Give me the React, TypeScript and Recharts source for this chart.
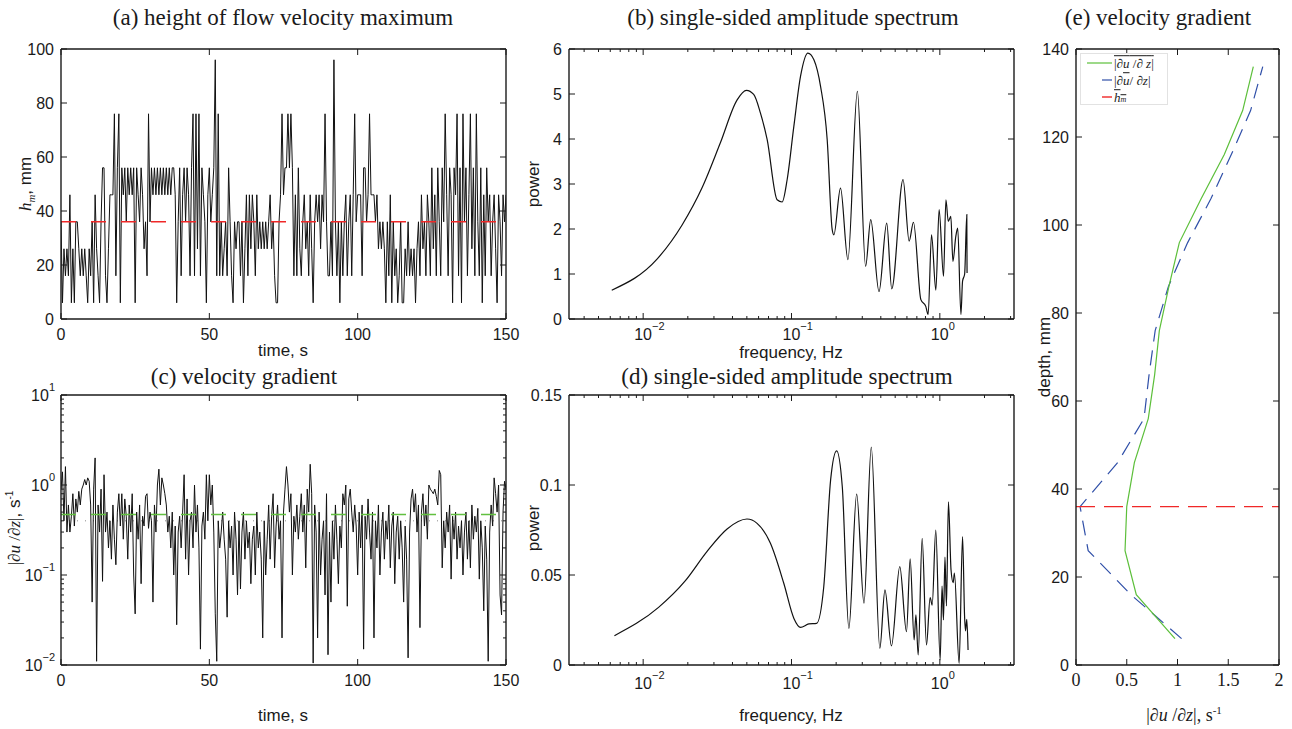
import React from 'react';
import { LineChart, Line, XAxis, YAxis, ReferenceLine } from 'recharts';

const W = 1292;
const H = 729;
const SANS = '"Liberation Sans", Arial, Helvetica, sans-serif';
const SERIF = '"Liberation Serif", "Times New Roman", Times, serif';
const INK = '#1a1a1a';

// ---------- (a) height of flow velocity maximum ----------
const timeStep = 0.5;
const hmValues = [
  36, 6, 26, 16, 26, 16, 46, 6, 26, 6,
  36, 36, 26, 16, 26, 16, 26, 16, 6, 26,
  16, 36, 6, 46, 26, 16, 6, 36, 56, 56,
  16, 6, 26, 46, 46, 46, 76, 16, 56, 76,
  6, 56, 46, 56, 36, 56, 46, 56, 46, 56,
  6, 56, 46, 36, 56, 46, 26, 36, 16, 76,
  36, 56, 46, 56, 46, 56, 46, 56, 46, 56,
  46, 56, 46, 56, 46, 56, 56, 46, 6, 36,
  56, 16, 46, 56, 36, 56, 46, 16, 56, 76,
  16, 76, 26, 76, 16, 56, 46, 36, 6, 46,
  56, 36, 46, 56, 96, 16, 76, 16, 36, 16,
  26, 36, 16, 56, 36, 16, 6, 36, 26, 36,
  36, 16, 36, 6, 26, 46, 16, 46, 26, 46,
  36, 16, 46, 26, 36, 26, 36, 26, 36, 26,
  36, 46, 26, 36, 16, 6, 6, 36, 46, 76,
  46, 56, 56, 76, 56, 76, 56, 16, 46, 16,
  56, 26, 16, 36, 46, 26, 36, 16, 46, 26,
  6, 36, 46, 36, 46, 26, 46, 36, 76, 36,
  16, 16, 36, 16, 96, 36, 16, 36, 6, 36,
  16, 36, 46, 16, 36, 46, 16, 46, 76, 36,
  46, 46, 46, 16, 56, 56, 36, 46, 76, 46,
  46, 46, 36, 46, 26, 36, 26, 36, 26, 6,
  36, 16, 46, 6, 36, 16, 26, 6, 16, 36,
  6, 6, 26, 16, 36, 16, 26, 16, 26, 6,
  26, 36, 16, 46, 26, 36, 16, 46, 36, 16,
  56, 26, 46, 16, 56, 36, 16, 56, 36, 76,
  46, 16, 56, 46, 6, 56, 46, 76, 16, 56,
  6, 76, 36, 56, 16, 46, 76, 26, 56, 16,
  76, 36, 16, 56, 6, 46, 16, 56, 36, 46,
  16, 36, 46, 26, 6, 46, 36, 16, 46, 36,
  46,
];
const hmMean = 36;
const timeTicks = [0, 50, 100, 150];
const hmTicks = [0, 20, 40, 60, 80, 100];

// ---------- (c) velocity gradient ----------
const gradValues = [
  0.9, 1.4, 0.4, 1.6, 0.3, 0.6, 0.3, 0.45, 0.8, 0.35,
  0.7, 0.5, 0.85, 0.6, 0.9, 1.0, 1.15, 1.0, 1.2, 1.1,
  0.6, 0.05, 0.9, 2.0, 0.011, 0.6, 0.3, 0.9, 0.085, 1.3,
  0.3, 0.5, 0.2, 0.4, 0.15, 0.6, 0.25, 0.13, 0.5, 0.8,
  0.35, 0.8, 0.25, 0.7, 0.45, 0.15, 0.6, 0.3, 0.8, 0.1,
  0.037, 0.5, 0.25, 0.6, 0.08, 0.45, 0.35, 0.75, 0.8, 0.33,
  0.5, 0.4, 0.05, 0.6, 0.3, 1.0, 1.5, 0.6, 1.2, 1.0,
  0.8, 0.6, 0.3, 0.45, 0.2, 0.5, 0.1, 0.35, 0.028, 0.3,
  0.45, 0.2, 0.5, 1.3, 0.15, 0.7, 0.1, 0.4, 0.5, 0.2,
  1.0, 0.3, 0.6, 0.2, 0.015, 0.35, 0.5, 0.25, 1.3, 0.4,
  1.3, 0.6, 1.0, 0.3, 0.037, 0.011, 0.4, 0.2, 0.3, 0.5,
  0.25, 0.15, 0.034, 0.4, 0.2, 0.35, 0.1, 0.5, 0.25, 0.06,
  0.4, 0.07, 0.3, 0.5, 0.15, 0.4, 0.2, 0.3, 0.08, 0.25,
  0.35, 0.1, 0.5, 0.2, 0.3, 0.15, 0.02, 0.4, 0.1, 0.25,
  0.6, 0.15, 0.45, 0.8, 0.12, 0.35, 0.6, 0.25, 0.4, 0.02,
  0.5, 0.9, 1.6, 1.0, 0.5, 0.8, 0.1, 0.45, 0.3, 0.6,
  0.25, 0.45, 0.8, 0.3, 0.6, 0.12, 0.9, 0.5, 1.7, 0.8,
  0.0105, 0.6, 0.3, 0.02, 0.5, 0.1, 0.25, 0.4, 0.06, 0.8,
  0.013, 0.3, 0.05, 0.4, 0.15, 0.6, 0.25, 0.08, 0.35, 0.2,
  0.8, 0.6, 1.0, 0.045, 0.7, 0.9, 0.5, 0.3, 0.6, 0.35,
  0.1, 0.5, 0.2, 0.6, 0.015, 0.45, 0.25, 0.7, 0.3, 0.15,
  0.5, 0.02, 0.4, 0.2, 0.6, 0.1, 0.3, 0.5, 0.15, 0.4,
  0.25, 0.6, 0.12, 0.35, 0.5, 0.08, 0.3, 0.45, 0.15, 0.4,
  0.2, 0.05, 0.35, 0.15, 0.012, 0.3, 0.7, 0.9, 0.5, 0.8,
  0.3, 0.6, 0.026, 0.5, 0.8, 0.35, 0.6, 0.25, 1.0, 0.9,
  0.85, 0.8, 0.9, 0.75, 0.6, 1.45, 1.3, 0.12, 0.4, 0.2,
  0.5, 0.3, 0.6, 0.09, 0.45, 0.25, 0.5, 0.15, 0.35, 0.2,
  0.4, 0.1, 0.3, 0.5, 0.15, 0.4, 0.12, 0.6, 0.25, 0.45,
  0.3, 0.55, 0.09, 0.4, 0.2, 0.04, 0.35, 0.15, 0.011, 0.3,
  0.6, 0.35, 1.2, 0.8, 0.5, 1.0, 0.06, 0.036, 0.5, 1.1,
  0.9,
];
const gradMean = 0.47;
const gradMedian = 0.4;
const gradTicks = [
  0.01, 0.02, 0.03, 0.04, 0.05, 0.06, 0.07, 0.08, 0.09,
  0.1, 0.2, 0.3, 0.4, 0.5, 0.6, 0.7, 0.8, 0.9,
  1, 2, 3, 4, 5, 6, 7, 8, 9, 10,
];

// ---------- (b) spectrum of h_m ----------
const specHmFreq = [
  0.00614, 0.0124, 0.0183, 0.0249, 0.0331, 0.043, 0.0497, 0.0556, 0.0617, 0.0685,
  0.08, 0.0865, 0.0935, 0.1037, 0.115, 0.129, 0.1416, 0.157, 0.174, 0.188,
  0.193, 0.214, 0.24, 0.278, 0.316, 0.342, 0.389, 0.4385, 0.474, 0.565,
  0.621, 0.664, 0.745, 0.804, 0.834, 0.879, 0.94, 0.989, 1.059, 1.099,
  1.14, 1.186, 1.225, 1.282, 1.32, 1.387, 1.423, 1.47, 1.52, 1.526,
];
const specHmPower = [
  0.64, 1.33, 2.09, 2.91, 3.91, 4.87, 5.08, 4.99, 4.58, 3.99,
  2.65, 2.6, 3.1, 4.28, 5.39, 5.91, 5.76, 5.17, 3.99, 1.99,
  1.87, 2.91, 1.32, 5.06, 1.17, 2.21, 0.61, 2.13, 0.67, 3.1,
  1.73, 2.15, 0.43, 0.28, 0.1, 1.87, 0.64, 2.43, 0.95, 2.65,
  2.17, 2.28, 1.28, 1.84, 2.02, 0.1, 0.84, 1.0, 2.32, 1.02,
];
const powerTicksB = [0, 1, 2, 3, 4, 5, 6];
const freqTicks = [
  0.004, 0.005, 0.006, 0.007, 0.008, 0.009,
  0.01, 0.02, 0.03, 0.04, 0.05, 0.06, 0.07, 0.08, 0.09,
  0.1, 0.2, 0.3, 0.4, 0.5, 0.6, 0.7, 0.8, 0.9,
  1, 2, 3,
];

// ---------- (d) spectrum of velocity gradient ----------
const specGradFreq = [
  0.0064, 0.0127, 0.0192, 0.0269, 0.0368, 0.0501, 0.0586, 0.0721, 0.0887, 0.1038,
  0.115, 0.131, 0.1476, 0.165, 0.1836, 0.2015, 0.22, 0.2437, 0.275, 0.308,
  0.345, 0.394, 0.4266, 0.472, 0.537, 0.596, 0.631, 0.671, 0.69, 0.7145,
  0.76, 0.813, 0.86, 0.888, 0.939, 1.005, 1.035, 1.058, 1.083, 1.108,
  1.143, 1.19, 1.23, 1.254, 1.349, 1.423, 1.47, 1.49, 1.52, 1.55,
];
const specGradPower = [
  0.0163, 0.032, 0.0467, 0.063, 0.0756, 0.0811, 0.0787, 0.0676, 0.0454, 0.0259,
  0.0209, 0.0228, 0.0231, 0.0435, 0.103, 0.119, 0.099, 0.0204, 0.095, 0.0343,
  0.121, 0.0093, 0.0417, 0.0106, 0.0546, 0.0185, 0.059, 0.0139, 0.0278, 0.0056,
  0.0704, 0.0111, 0.0374, 0.0333, 0.075, 0.0028, 0.0439, 0.025, 0.06, 0.0328,
  0.0907, 0.0528, 0.0457, 0.051, 0.0009, 0.0713, 0.0259, 0.019, 0.0254, 0.0083,
];
const powerTicksD = [0, 0.05, 0.1, 0.15];

// ---------- (e) velocity gradient profile ----------
const depthLevels = [6, 16, 26, 36, 46, 56, 66, 76, 86, 96, 106, 116, 126, 136];
const gradMeanProfile = [0.975, 0.594, 0.483, 0.5, 0.575, 0.712, 0.775, 0.821, 0.915, 1.018, 1.234, 1.461, 1.642, 1.747];
const gradOfMeanProfile = [1.04, 0.54, 0.12, 0.04, 0.41, 0.67, 0.72, 0.78, 0.91, 1.1, 1.33, 1.53, 1.72, 1.84];
const hmMeanDepth = 36;
const gradAxisTicks = [0, 0.5, 1, 1.5, 2];
const depthTicks = [0, 20, 40, 60, 80, 100, 120, 140];

// ---------- tables ----------
const tableA = hmValues.map((h, i) => ({ t: i * timeStep, h }));
const tableC = gradValues.map((g, i) => ({ t: i * timeStep, g }));
const tableB = specHmFreq.map((f, i) => ({ f, p: specHmPower[i] }));
const tableD = specGradFreq.map((f, i) => ({ f, p: specGradPower[i] }));
const tableE = depthLevels.map((depth, i) => ({ depth, g: gradMeanProfile[i], gm: gradOfMeanProfile[i] }));

// ---------- plot boxes (page pixels) ----------
type Box = { x0: number; x1: number; y0: number; y1: number };
const boxA: Box = { x0: 61, x1: 506, y0: 49, y1: 319 };
const boxB: Box = { x0: 569, x1: 1014, y0: 49, y1: 319 };
const boxC: Box = { x0: 61, x1: 506, y0: 395, y1: 665 };
const boxD: Box = { x0: 569, x1: 1014, y0: 395, y1: 665 };
const boxE: Box = { x0: 1076, x1: 1279, y0: 49, y1: 665 };
// axes are 1px thick, so margins leave room for them
const mg = (b: Box) => ({ top: b.y0 - 1, left: b.x0 - 1, right: W - b.x1 - 1, bottom: H - b.y1 - 1 });

// ---------- ticks ----------
type Side = 'bottom' | 'top' | 'left' | 'right';
interface TickCfg {
  side: Side;
  log?: boolean;
  fmt?: (v: number) => React.ReactNode;
  off?: number;
  font?: string;
  size?: number;
  anchorShift?: number;
}
const isDecade = (v: number) => Math.abs(Math.log10(v) - Math.round(Math.log10(v))) < 1e-6;
const expText = (v: number) => {
  const e = Math.round(Math.log10(v));
  return e < 0 ? '\u2212' + String(-e) : String(e);
};
const logFmt = (v: number) => (
  <>
    <tspan>10</tspan>
    <tspan dy={-8} fontSize={11}>{expText(v)}</tspan>
  </>
);
const numFmt = (v: number) => String(v);

function makeTick(cfg: TickCfg) {
  return (p: any) => {
    const x = Number(p.x);
    const y = Number(p.y);
    const v = Number(p.payload ? p.payload.value : 0);
    const major = cfg.log ? isDecade(v) : true;
    const L = major ? 6 : 3;
    let x2 = x;
    let y2 = y;
    if (cfg.side === 'bottom') y2 = y - L;
    else if (cfg.side === 'top') y2 = y + L;
    else if (cfg.side === 'left') x2 = x + L;
    else x2 = x - L;
    let label: React.ReactNode = null;
    if (cfg.fmt && major) {
      const off = cfg.off ?? 8;
      const common = {
        fontFamily: cfg.font ?? SANS,
        fontSize: cfg.size ?? 16,
        fill: INK,
        dominantBaseline: 'central' as const,
      };
      if (cfg.side === 'bottom') {
        if (cfg.anchorShift !== undefined) {
          label = (
            <text x={x - cfg.anchorShift} y={y + off} textAnchor="start" {...common}>
              {cfg.fmt(v)}
            </text>
          );
        } else {
          label = (
            <text x={x} y={y + off} textAnchor="middle" {...common}>
              {cfg.fmt(v)}
            </text>
          );
        }
      } else if (cfg.side === 'left') {
        label = (
          <text x={x - off} y={y} textAnchor="end" {...common}>
            {cfg.fmt(v)}
          </text>
        );
      }
    }
    return (
      <g>
        <line x1={x} y1={y} x2={x2} y2={y2} stroke={INK} strokeWidth={1} />
        {label}
      </g>
    );
  };
}

const axisLine = { stroke: INK, strokeWidth: 1.4 };

const tickTop = makeTick({ side: 'top' });
const tickRight = makeTick({ side: 'right' });
const tickTopLog = makeTick({ side: 'top', log: true });
const tickRightLog = makeTick({ side: 'right', log: true });
const tickBottomNum = makeTick({ side: 'bottom', fmt: numFmt, off: 15 });
const tickLeftNum = makeTick({ side: 'left', fmt: numFmt, off: 7 });
const tickBottomLogB = makeTick({ side: 'bottom', log: true, fmt: logFmt, off: 15, anchorShift: 9 });
const tickBottomLogD = makeTick({ side: 'bottom', log: true, fmt: logFmt, off: 18, anchorShift: 9 });
const tickLeftLog = makeTick({ side: 'left', log: true, fmt: logFmt, off: 6 });
const tickBottomSerif = makeTick({ side: 'bottom', fmt: numFmt, off: 15, font: SERIF, size: 18 });

const common = {
  tickSize: 0,
  tickMargin: 0,
  interval: 0 as const,
  allowDataOverflow: true,
  axisLine,
};

// ---------- text helper ----------
const Lbl = ({
  cx,
  cy,
  rot,
  font,
  size,
  children,
}: {
  cx: number;
  cy: number;
  rot?: boolean;
  font?: string;
  size?: number;
  children: React.ReactNode;
}) => (
  <div
    style={{
      position: 'absolute',
      left: cx,
      top: cy,
      transform: `translate(-50%, -50%)${rot ? ' rotate(-90deg)' : ''}`,
      whiteSpace: 'nowrap',
      lineHeight: 1,
      fontFamily: font ?? SANS,
      fontSize: size ?? 17,
      color: INK,
    }}
  >
    {children}
  </div>
);

const layer: React.CSSProperties = { position: 'absolute', left: 0, top: 0 };

export default function App() {
  return (
    <div style={{ position: 'absolute', left: 0, top: 0, width: W, height: H, background: '#fff', overflow: 'hidden' }}>
      {/* (a) */}
      <div style={layer}>
        <LineChart width={W} height={H} data={tableA} margin={mg(boxA)}>
          <XAxis xAxisId="b" dataKey="t" type="number" domain={[0, 150]} ticks={timeTicks} height={1} tick={tickBottomNum} {...common} />
          <XAxis xAxisId="t" dataKey="t" orientation="top" type="number" domain={[0, 150]} ticks={timeTicks} height={1} tick={tickTop} {...common} />
          <YAxis yAxisId="l" type="number" domain={[0, 100]} ticks={hmTicks} width={1} tick={tickLeftNum} {...common} />
          <YAxis yAxisId="r" orientation="right" type="number" domain={[0, 100]} ticks={hmTicks} width={1} tick={tickRight} {...common} />
          <Line xAxisId="b" yAxisId="l" dataKey="h" type="linear" stroke="#111" strokeWidth={1} dot={false} isAnimationActive={false} />
          <ReferenceLine xAxisId="b" yAxisId="l" y={hmMean} stroke="#f02828" strokeWidth={1.4} strokeDasharray="15 15" />
        </LineChart>
      </div>

      {/* (b) */}
      <div style={layer}>
        <LineChart width={W} height={H} data={tableB} margin={mg(boxB)}>
          <XAxis xAxisId="b" dataKey="f" type="number" scale="log" domain={[0.0031623, 3.1623]} ticks={freqTicks} height={1} tick={tickBottomLogB} {...common} />
          <XAxis xAxisId="t" dataKey="f" orientation="top" type="number" scale="log" domain={[0.0031623, 3.1623]} ticks={freqTicks} height={1} tick={tickTopLog} {...common} />
          <YAxis yAxisId="l" type="number" domain={[0, 6]} ticks={powerTicksB} width={1} tick={tickLeftNum} {...common} />
          <YAxis yAxisId="r" orientation="right" type="number" domain={[0, 6]} ticks={powerTicksB} width={1} tick={tickRight} {...common} />
          <Line xAxisId="b" yAxisId="l" dataKey="p" type="monotone" stroke="#111" strokeWidth={1.2} dot={false} isAnimationActive={false} />
        </LineChart>
      </div>

      {/* (c) */}
      <div style={layer}>
        <LineChart width={W} height={H} data={tableC} margin={mg(boxC)}>
          <XAxis xAxisId="b" dataKey="t" type="number" domain={[0, 150]} ticks={timeTicks} height={1} tick={tickBottomNum} {...common} />
          <XAxis xAxisId="t" dataKey="t" orientation="top" type="number" domain={[0, 150]} ticks={timeTicks} height={1} tick={tickTop} {...common} />
          <YAxis yAxisId="l" type="number" scale="log" domain={[0.01, 10]} ticks={gradTicks} width={1} tick={tickLeftLog} {...common} />
          <YAxis yAxisId="r" orientation="right" type="number" scale="log" domain={[0.01, 10]} ticks={gradTicks} width={1} tick={tickRightLog} {...common} />
          <ReferenceLine xAxisId="b" yAxisId="l" y={gradMedian} stroke="#8a8a8a" strokeWidth={1} strokeDasharray="1 7" />
          <Line xAxisId="b" yAxisId="l" dataKey="g" type="linear" stroke="#111" strokeWidth={1} dot={false} isAnimationActive={false} />
          <ReferenceLine xAxisId="b" yAxisId="l" y={gradMean} stroke="#62c040" strokeWidth={1.4} strokeDasharray="15 15" />
        </LineChart>
      </div>

      {/* (d) */}
      <div style={layer}>
        <LineChart width={W} height={H} data={tableD} margin={mg(boxD)}>
          <XAxis xAxisId="b" dataKey="f" type="number" scale="log" domain={[0.0031623, 3.1623]} ticks={freqTicks} height={1} tick={tickBottomLogD} {...common} />
          <XAxis xAxisId="t" dataKey="f" orientation="top" type="number" scale="log" domain={[0.0031623, 3.1623]} ticks={freqTicks} height={1} tick={tickTopLog} {...common} />
          <YAxis yAxisId="l" type="number" domain={[0, 0.15]} ticks={powerTicksD} width={1} tick={tickLeftNum} {...common} />
          <YAxis yAxisId="r" orientation="right" type="number" domain={[0, 0.15]} ticks={powerTicksD} width={1} tick={tickRight} {...common} />
          <Line xAxisId="b" yAxisId="l" dataKey="p" type="monotone" stroke="#111" strokeWidth={1.2} dot={false} isAnimationActive={false} />
        </LineChart>
      </div>

      {/* (e) */}
      <div style={layer}>
        <LineChart width={W} height={H} data={tableE} margin={mg(boxE)} layout="vertical">
          <XAxis xAxisId="b" type="number" domain={[0, 2]} ticks={gradAxisTicks} height={1} tick={tickBottomSerif} {...common} />
          <XAxis xAxisId="t" orientation="top" type="number" domain={[0, 2]} ticks={gradAxisTicks} height={1} tick={tickTop} {...common} />
          <YAxis yAxisId="l" dataKey="depth" type="number" reversed domain={[0, 140]} ticks={depthTicks} width={1} tick={tickLeftNum} {...common} />
          <YAxis yAxisId="r" dataKey="depth" orientation="right" type="number" reversed domain={[0, 140]} ticks={depthTicks} width={1} tick={tickRight} {...common} />
          <Line xAxisId="b" yAxisId="l" dataKey="gm" type="linear" stroke="#2f4fa8" strokeWidth={1.2} strokeDasharray="15 9" dot={false} isAnimationActive={false} />
          <Line xAxisId="b" yAxisId="l" dataKey="g" type="linear" stroke="#5cbf3a" strokeWidth={1.2} dot={false} isAnimationActive={false} />
          <ReferenceLine xAxisId="b" yAxisId="l" y={hmMeanDepth} stroke="#f02828" strokeWidth={1.4} strokeDasharray="19 9" />
        </LineChart>
      </div>

      {/* titles */}
      <Lbl cx={283} cy={17} font={SERIF} size={23}>(a) height of flow velocity maximum</Lbl>
      <Lbl cx={793} cy={17} font={SERIF} size={23}>(b) single-sided amplitude spectrum</Lbl>
      <Lbl cx={244} cy={376} font={SERIF} size={23}>(c) velocity gradient</Lbl>
      <Lbl cx={787} cy={376} font={SERIF} size={23}>(d) single-sided amplitude spectrum</Lbl>
      <Lbl cx={1158} cy={17} font={SERIF} size={23}>(e) velocity gradient</Lbl>

      {/* axis labels */}
      <Lbl cx={283} cy={350}>time, s</Lbl>
      <Lbl cx={791} cy={352}>frequency, Hz</Lbl>
      <Lbl cx={283} cy={715}>time, s</Lbl>
      <Lbl cx={791} cy={715}>frequency, Hz</Lbl>
      <Lbl cx={25} cy={184} rot>
        <span style={{ fontFamily: SERIF, fontStyle: 'italic' }}>h</span>
        <span style={{ fontFamily: SERIF, fontStyle: 'italic', fontSize: 11, position: 'relative', top: 4 }}>m</span>
        <span>, mm</span>
      </Lbl>
      <Lbl cx={533} cy={184} rot>power</Lbl>
      <Lbl cx={14} cy={528} rot>
        <span style={{ fontFamily: SERIF }}>
          |∂<i>u</i> /∂<i>z</i>|
        </span>
        <span>, s</span>
        <span style={{ fontSize: 10, position: 'relative', top: -7 }}>-1</span>
      </Lbl>
      <Lbl cx={533} cy={528} rot>power</Lbl>
      <Lbl cx={1044} cy={357} rot>depth, mm</Lbl>
      <Lbl cx={1184} cy={715} font={SERIF} size={18}>
        |∂<i>u</i> /∂<i>z</i>|, s
        <span style={{ fontSize: 11, position: 'relative', top: -7 }}>-1</span>
      </Lbl>

      {/* legend of (e) */}
      <div
        style={{
          position: 'absolute',
          left: 1080,
          top: 53,
          width: 88,
          height: 52,
          border: '1px solid #e2e2e2',
          background: '#fff',
          boxSizing: 'border-box',
          fontFamily: SERIF,
          fontSize: 13,
          color: INK,
        }}
      >
        <svg width={88} height={52} style={{ position: 'absolute', left: -1, top: -1 }}>
          <line x1={7} y1={10} x2={32} y2={10} stroke="#5cbf3a" strokeWidth={1.2} />
          <line x1={22} y1={27} x2={32} y2={27} stroke="#2f4fa8" strokeWidth={1.2} />
          <line x1={22} y1={44} x2={32} y2={44} stroke="#f02828" strokeWidth={1.4} />
        </svg>
        <div style={{ position: 'absolute', left: 33, top: 10, transform: 'translateY(-50%)', whiteSpace: 'nowrap', lineHeight: 1.2 }}>
          <span style={{ textDecoration: 'overline' }}>
            |∂<i>u</i> /∂ <i>z</i>|
          </span>
        </div>
        <div style={{ position: 'absolute', left: 33, top: 27, transform: 'translateY(-50%)', whiteSpace: 'nowrap', lineHeight: 1.2 }}>
          <span>|∂</span>
          <i style={{ textDecoration: 'overline' }}>u</i>
          <span>/ ∂</span>
          <i>z</i>
          <span>|</span>
        </div>
        <div style={{ position: 'absolute', left: 33, top: 44, transform: 'translateY(-50%)', whiteSpace: 'nowrap', lineHeight: 1.2 }}>
          <span style={{ textDecoration: 'overline' }}>
            <i>h</i>
            <i style={{ fontSize: 8 }}>m</i>
          </span>
        </div>
      </div>
    </div>
  );
}
